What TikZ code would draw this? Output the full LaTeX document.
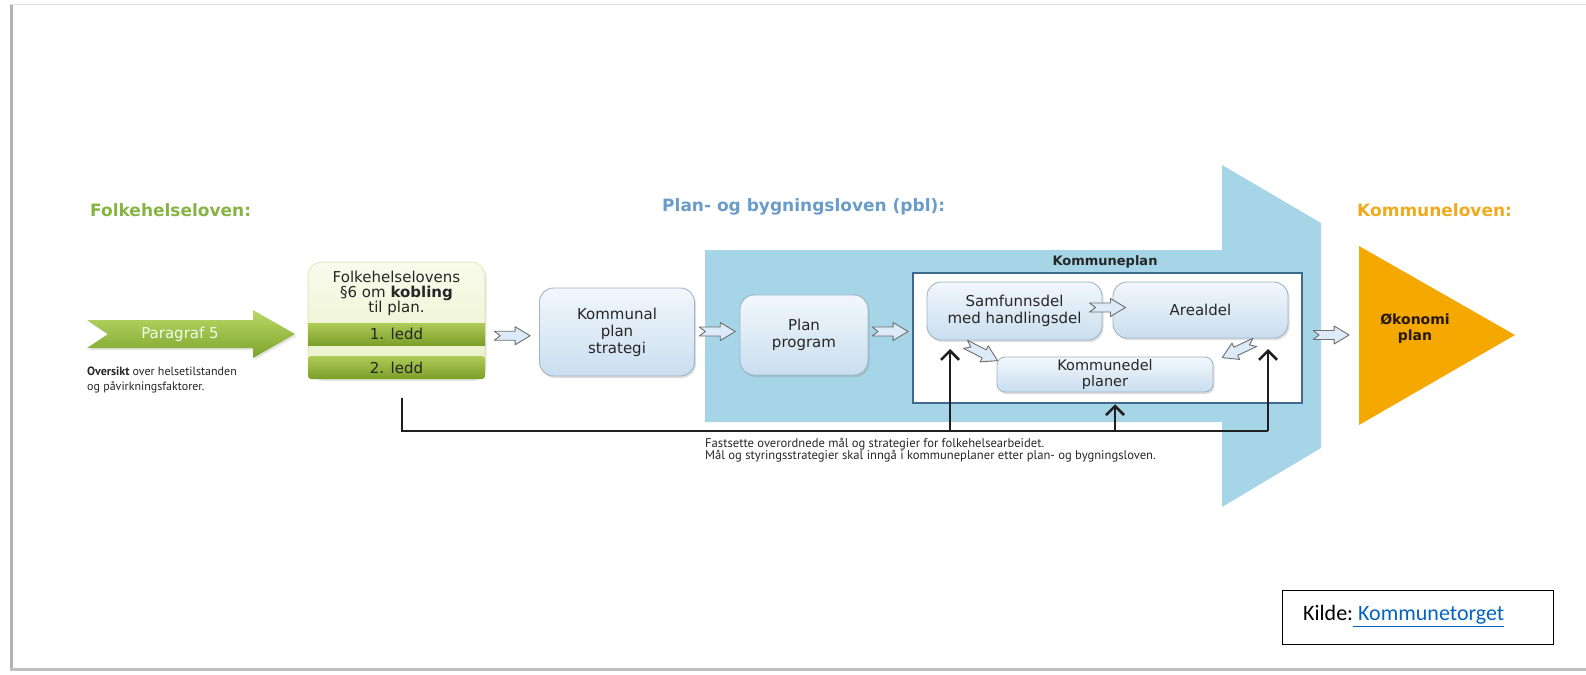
\documentclass[tikz,border=0pt]{standalone}
\usepackage{fontspec}
\setmainfont{DejaVu Sans}
\newfontfamily\ptsans{PT Sans}
\newfontfamily\carlito{Carlito}
\usetikzlibrary{arrows.meta,shadows,calc}
\newcommand{\fsz}[2]{\fontsize{#1}{#2}\selectfont}
\definecolor{headgreen}{HTML}{86B443}
\definecolor{headblue}{HTML}{6A9CC9}
\definecolor{headorange}{HTML}{F0AA1E}
\definecolor{bigblue}{HTML}{A5D5E7}
\definecolor{okorange}{HTML}{F5A800}
\definecolor{frameblue}{HTML}{3D6B8F}
\definecolor{boxedge}{HTML}{9DB4C6}
\definecolor{boxtop}{HTML}{F2F7FC}
\definecolor{boxbot}{HTML}{C9DEEF}
\definecolor{arrowgray}{HTML}{6E6E6E}
\definecolor{arrowfill}{HTML}{DCEBF7}
\definecolor{grtop}{HTML}{BCD866}
\definecolor{grbot}{HTML}{7BA42C}
\definecolor{bandtop}{HTML}{AECB55}
\definecolor{bandbot}{HTML}{7C9F2B}
\definecolor{paletop}{HTML}{F9FBEC}
\definecolor{palebot}{HTML}{E8F0C6}
\definecolor{paleedge}{HTML}{D6E2AC}
\definecolor{linkblue}{HTML}{0563C1}
\definecolor{txt}{HTML}{262626}
\tikzset{
  bluebox/.style={draw=boxedge, line width=0.9pt, rounded corners=14pt,
    top color=boxtop, bottom color=boxbot, align=center, text=txt,
    font=\fsz{15}{17}, inner sep=0pt,
    drop shadow={opacity=0.25, shadow xshift=1.5pt, shadow yshift=-2pt}},
  blk/.style={draw=black!88, line width=2.6pt},
  barb/.style={-{Straight Barb[length=9pt,width=18pt,line width=2.6pt]}},
  harrow/.pic={
    \path[draw=arrowgray, fill=arrowfill, line width=0.9pt, line join=round]
      (-18,-4.5) -- (3,-4.5) -- (3,-9) -- (18,0) -- (3,9) -- (3,4.5)
      -- (-18,4.5) -- (-12,0) -- cycle;
  }
}
\begin{document}
\begin{tikzpicture}[x=1pt,y=-1pt]
\useasboundingbox (0,0) rectangle (1586,674);
% page border
\draw[black!12, line width=1pt] (10,5) -- (1586,5);
\draw[black!30, line width=3pt] (11.5,5) -- (11.5,669);
\draw[black!25, line width=3pt] (10,669.5) -- (1586,669.5);
% big blue arrow
\fill[bigblue] (705,250) -- (1222,250) -- (1222,165) -- (1321,223) -- (1321,448)
  -- (1222,507) -- (1222,422) -- (705,422) -- cycle;
% headings
\node[anchor=west, font=\fsz{17}{20}\bfseries, text=headgreen, inner sep=0pt] (h1) at (90,210) {Folkehelseloven:};
\node[anchor=west, font=\fsz{17}{20}\bfseries, text=headblue, inner sep=0pt] (h2) at (662,207) {Plan- og bygningsloven (pbl):};
\node[anchor=west, font=\fsz{17}{20}\bfseries, text=headorange, inner sep=0pt] (h3) at (1357,210) {Kommuneloven:};
% green arrow
\path[top color=grtop, bottom color=grbot, drop shadow={opacity=0.2, shadow xshift=1.5pt, shadow yshift=-2pt}]
  (87,320) -- (253,320) -- (253,310) -- (295,334) -- (253,358) -- (253,348)
  -- (87,348) -- (108,334) -- cycle;
\node[font=\fsz{15}{17}, text=white!92!green] (p5) at (180,334) {Paragraf 5};
\node[anchor=north west, align=left, font=\ptsans\fsz{12}{15}, text=txt, inner sep=0pt] (ov) at (87,367)
  {\textbf{Oversikt} over helsetilstanden\\og påvirkningsfaktorer.};
% Folkehelseloven box
\node[draw=paleedge, line width=0.6pt, top color=paletop, bottom color=palebot,
  rounded corners=14pt, minimum width=177pt, minimum height=117pt, inner sep=0pt,
  drop shadow={opacity=0.2, shadow xshift=1.5pt, shadow yshift=-2pt}] (fh) at (396.5,320.5) {};
\path[top color=bandtop, bottom color=bandbot] (308,323) rectangle (485,345);
\path[top color=bandtop, bottom color=bandbot, rounded corners=3pt] (308,356) rectangle (485,379);
\node[align=center, font=\fsz{15}{15}, text=txt] (fht) at (396.5,293)
  {Folkehelselovens\\§6 om \textbf{kobling}\\til plan.};
\node[font=\fsz{15}{17}, text=txt] (l1) at (396.5,334) {1. ledd};
\node[font=\fsz{15}{17}, text=txt] (l2) at (396.5,367.5) {2. ledd};
% process boxes
\node[bluebox, minimum width=155pt, minimum height=88pt] (ks) at (617,332) {Kommunal\\plan\\strategi};
\node[bluebox, minimum width=128pt, minimum height=80pt] (pp) at (804,335) {Plan\\program};
% Kommuneplan frame
\node[draw=frameblue, line width=2.5pt, fill=white, minimum width=389pt, minimum height=130pt, inner sep=0pt] (kp) at (1107.5,338) {};
\node[font=\fsz{13}{15}\bfseries, text=black!85] (kpt) at (1105,262) {Kommuneplan};
\node[bluebox, minimum width=175pt, minimum height=58pt] (sd) at (1014.5,311) {Samfunnsdel\\med handlingsdel};
\node[bluebox, minimum width=175pt, minimum height=56pt] (ad) at (1200.5,310) {Arealdel};
\node[bluebox, rounded corners=8pt, minimum width=216pt, minimum height=35pt, font=\fsz{14.5}{16}] (kd) at (1105,374.5) {Kommunedel\\planer};
% Okonomi plan triangle
\fill[okorange] (1359,246) -- (1515,335) -- (1359,425) -- cycle;
\node[align=center, font=\fsz{14}{16}\bfseries, text=black!80!brown] (ok) at (1415,329) {Økonomi\\plan};
% hollow arrows
\pic at ($(fh.east)!0.5!(ks.west)+(0,9.5)$) {harrow};
\pic at ($(ks.east)!0.5!(pp.west)+(0,-2)$) {harrow};
\pic at ($(pp.east)!0.5!(kp.west)+(0,-5)$) {harrow};
\pic at ($(kp.east)!0.5!(1359,332)$) {harrow};
\pic at ($(sd.east)!0.5!(ad.west)+(0,-3)$) {harrow};
\pic[rotate=-27] at (981.5,352.5) {harrow};
\pic[rotate=205] at (1238.5,350) {harrow};
% black connectors
\coordinate (ls) at (402,398);
\coordinate (le) at (1268,431);
\coordinate (m1) at (950,431);
\coordinate (m2) at (1115,431);
\coordinate (t1) at (950,349);
\coordinate (t3) at (1268,349);
\draw[blk, line join=miter] (ls) |- (le);
\draw[blk, barb] (le) -- (t3);
\draw[blk, barb] (m1) -- (t1);
\draw[blk, barb] (m2) -- (kp.south -| m2);
% note
\node[anchor=north west, align=left, font=\ptsans\fsz{12.6}{12.5}, text=txt, inner sep=0pt] (note) at (705,438)
  {Fastsette overordnede mål og strategier for folkehelsearbeidet.\\Mål og styringsstrategier skal inngå i kommuneplaner etter plan- og bygningsloven.};
% source box
\node[draw=black, line width=1pt, minimum width=271pt, minimum height=54pt, inner sep=0pt] (src) at (1417.5,617) {};
\node[anchor=west, font=\carlito\fsz{22}{26}, inner sep=0pt] (srct) at (1303,616)
  {Kilde:{\color{linkblue}\underline{\ Kommunetorget}}};
\end{tikzpicture}
\end{document}
